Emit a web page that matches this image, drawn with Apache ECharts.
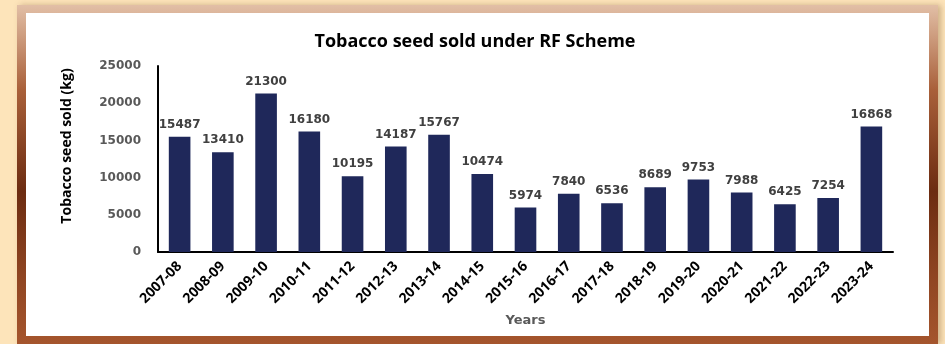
<!DOCTYPE html>
<html>
<head>
<meta charset="utf-8">
<script src="https://cdn.jsdelivr.net/npm/echarts@6/dist/echarts.min.js"></script>
<style>
  html, body { margin: 0; padding: 0; width: 945px; height: 344px; overflow: hidden; background: #fde4ba; }
  .frame {
    position: absolute; left: 17px; top: 5px; width: 921px; height: 339px;
    background: linear-gradient(to bottom, #e2bfa6 0%, #a9603a 25%, #6c2c11 55%, #8f4522 80%, #a5552d 100%);
    box-shadow: 3px 0 6px rgba(120, 80, 40, 0.35);
  }
  .paper { position: absolute; left: 26px; top: 13px; width: 903px; height: 323px; background: #ffffff; }
  #chart { position: absolute; left: 0; top: 0; width: 945px; height: 344px; }
</style>
</head>
<body>
<div class="frame"></div>
<div class="paper"></div>
<div id="chart"></div>
<script>
// Tobacco seed sold under the RF scheme, by year (kg)
const years = ['2007-08', '2008-09', '2009-10', '2010-11', '2011-12', '2012-13', '2013-14', '2014-15',
  '2015-16', '2016-17', '2017-18', '2018-19', '2019-20', '2020-21', '2021-22', '2022-23', '2023-24'];
const seedSold = [15487, 13410, 21300, 16180, 10195, 14187, 15767, 10474,
  5974, 7840, 6536, 8689, 9753, 7988, 6425, 7254, 16868];
const yTicks = [0, 5000, 10000, 15000, 20000, 25000];

const chart = echarts.init(document.getElementById('chart'), null, { renderer: 'canvas' });
chart.setOption({
  backgroundColor: 'transparent',
  animation: false,
  title: {
    text: 'Tobacco seed sold under RF Scheme',
    left: 470, top: 28, textAlign: 'center',
    textStyle: { fontFamily: 'Open Sans', fontWeight: 'bold', fontSize: 18, color: '#000' }
  },
  grid: { left: 158, right: 52, top: 66, bottom: 92 },
  xAxis: {
    type: 'category',
    data: years,
    name: 'Years',
    nameLocation: 'middle',
    nameGap: 62,
    nameTextStyle: { fontFamily: 'DejaVu Sans', fontWeight: 'bold', fontSize: 13, color: '#595959' },
    axisLine: { lineStyle: { color: '#000', width: 2 } },
    axisTick: { show: false },
    axisLabel: {
      interval: 0, rotate: 45, margin: 12,
      fontFamily: 'Open Sans', fontWeight: 'bold', fontSize: 14, color: '#000'
    }
  },
  yAxis: {
    type: 'value',
    min: yTicks[0], max: yTicks[yTicks.length - 1], interval: 5000,
    name: 'Tobacco seed sold (kg)',
    nameLocation: 'middle',
    nameGap: 84,
    nameTextStyle: {
      fontFamily: 'Open Sans', fontWeight: 'bold', fontSize: 14, color: '#000',
      padding: [0, 0, 0, 26]
    },
    axisLine: { show: true, lineStyle: { color: '#000', width: 2 } },
    axisTick: { show: false },
    splitLine: { show: false },
    axisLabel: {
      margin: 17, fontFamily: 'DejaVu Sans', fontWeight: 'bold', fontSize: 12, color: '#595959',
      formatter: v => String(v)
    }
  },
  series: [{
    type: 'bar',
    data: seedSold,
    barWidth: '50%',
    itemStyle: { color: '#1f285a' },
    label: {
      show: true, position: 'top', distance: 6,
      fontFamily: 'DejaVu Sans', fontWeight: 'bold', fontSize: 12, color: '#404040'
    }
  }]
});
</script>
</body>
</html>
